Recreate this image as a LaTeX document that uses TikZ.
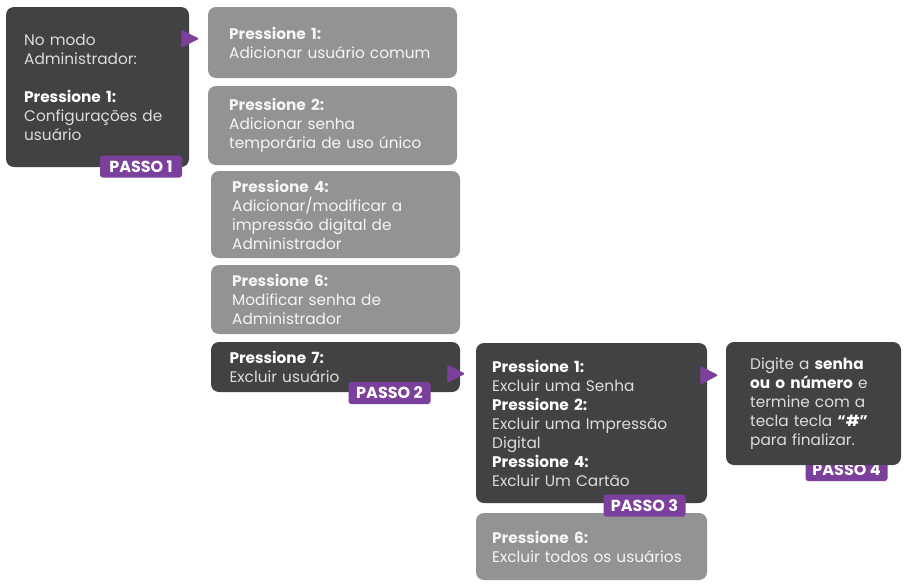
\documentclass[tikz,border=0pt]{standalone}
\usepackage{fontspec}
\setmainfont{Poppins}
\usetikzlibrary{calc}
\definecolor{boxdark}{HTML}{424245}
\definecolor{boxgray}{HTML}{939396}
\definecolor{passopurple}{HTML}{7B3F9C}
\definecolor{txtlight}{HTML}{DCDCDC}
\newcommand\hl[1]{\textbf{\color{white}#1}}

\begin{document}
\begin{tikzpicture}[x=0.75pt, y=-0.75pt, font=\fontsize{11.5}{14.25}\selectfont,
  card/.style={rounded corners=6pt, align=left, inner ysep=0pt},
  dark/.style={card, fill=boxdark, text=txtlight},
  light/.style={card, fill=boxgray, text=white!96!black},
  passo/.style={fill=passopurple, rounded corners=2pt, text=white, inner sep=0pt,
    minimum width=61.5pt, minimum height=16.5pt, font=\fontsize{12}{12}\selectfont\bfseries},
  tip/.style={fill=passopurple, rounded corners=1pt}]
  \useasboundingbox (0,0) rectangle (920,586);
  % step 1: start box
  \node[dark, minimum width=137.25pt, minimum height=120pt, text width=110pt, inner xsep=13.5pt]
    (start) at (97.5,87) {No modo\\Administrador:\\[14.25pt]\hl{Pressione 1:}\\Configurações de\\usuário};
  \node[passo] (p1) at (141,166.5) {PASSO 1};
  % user menu options
  \node[light, minimum width=186.75pt, minimum height=53.25pt, text width=155pt, inner xsep=15.75pt]
    (opt1) at (332.5,42.5) {\textbf{Pressione 1:}\\Adicionar usuário comum};
  \node[light, minimum width=186.75pt, minimum height=59.25pt, text width=155pt, inner xsep=15.75pt]
    (opt2) at (332.5,125.5) {\textbf{Pressione 2:}\\Adicionar senha\\temporária de uso único};
  \node[light, minimum width=186.75pt, minimum height=65.25pt, text width=155pt, inner xsep=15.75pt]
    (opt4) at (335.5,214.5) {\textbf{Pressione 4:}\\Adicionar/modificar a\\impressão digital de\\Administrador};
  \node[light, minimum width=186.75pt, minimum height=51.75pt, text width=155pt, inner xsep=15.75pt]
    (opt6) at (335.5,299.5) {\textbf{Pressione 6:}\\Modificar senha de\\Administrador};
  \node[dark, minimum width=186.75pt, minimum height=37.5pt, text width=159pt, inner xsep=13.5pt]
    (opt7) at (335.5,367) {\hl{Pressione 7:}\\Excluir usuário};
  \node[passo] (p2) at (389.5,393) {PASSO 2};
  % delete menu
  \node[light, minimum width=173.25pt, minimum height=50.25pt, text width=149pt, inner xsep=12pt]
    (del6) at (591.5,546.5) {\textbf{Pressione 6:}\\Excluir todos os usuários};
  \node[dark, minimum width=173.25pt, minimum height=120pt, text width=149pt, inner xsep=12pt]
    (del) at (591.5,423) {\hl{Pressione 1:}\\Excluir uma Senha\\\hl{Pressione 2:}\\Excluir uma Impressão\\Digital\\\hl{Pressione 4:}\\Excluir Um Cartão};
  \node[passo] (p3) at (644.5,505.5) {PASSO 3};
  % step 4 sits under its box
  \node[passo] (p4) at (846.5,470) {PASSO 4};
  \node[dark, minimum width=131.25pt, minimum height=92.25pt, text width=95pt, inner xsep=18pt]
    (final) at (813.5,403.5) {Digite a \hl{senha}\\\hl{ou o número} e\\termine com a\\tecla tecla \hl{“\#”}\\para finalizar.};
  % pointers
  \fill[tip] ($(start.north east)+(-8,23)$) -- ($(start.north east)+(10,32)$) -- ($(start.north east)+(-8,41)$) -- cycle;
  \fill[tip] ($(opt7.north east)+(-13,23)$) -- ($(opt7.north east)+(5,32)$) -- ($(opt7.north east)+(-13,41)$) -- cycle;
  \fill[tip] ($(del.north east)+(-7,23)$) -- ($(del.north east)+(11,32.5)$) -- ($(del.north east)+(-7,42)$) -- cycle;
\end{tikzpicture}
\end{document}
